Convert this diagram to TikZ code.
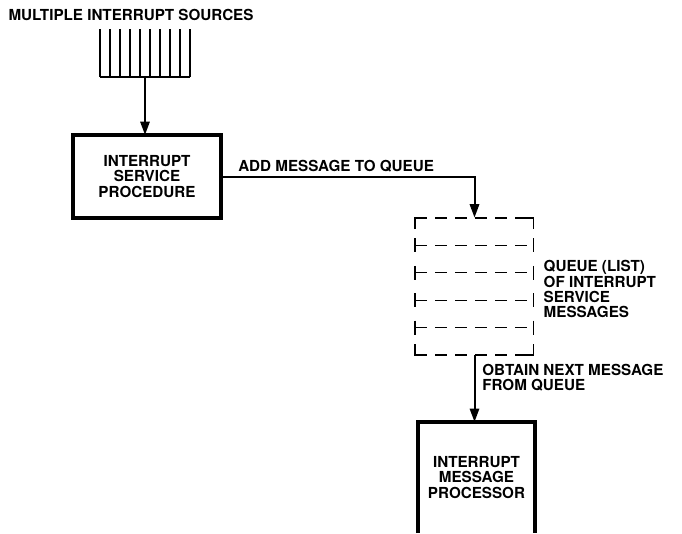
\documentclass[tikz,border=0pt]{standalone}
\usepackage{fontspec}
\setmainfont{TeX Gyre Heros}
\usetikzlibrary{positioning,arrows.meta}
\tikzset{
  lbl/.style={font=\bfseries\fontsize{11.4}{11.4}\selectfont,inner sep=0pt,align=left},
  procbox/.style={rectangle,align=center,inner sep=0pt,font=\bfseries\fontsize{11.4}{11.4}\selectfont},
  heavy/.style={line width=3pt,line cap=rect},
  flow/.style={-{Triangle[length=10pt,width=7pt]},line width=1.5pt},
  slot/.style={line width=1pt,dash pattern=on 9pt off 6pt},
  tick/.style={line width=1.3pt}
}

\begin{document}
\begin{tikzpicture}[x=0.75pt,y=-0.75pt]
  \useasboundingbox (0,0) rectangle (682,533);
  % sources
  \node[lbl,anchor=center] (src) at (131,15) {MULTIPLE INTERRUPT SOURCES};
  \foreach \x in {100,110,...,190}
    \draw[line width=1.3pt] (\x,29) -- (\x,77);
  \draw[line width=1.3pt] (100,77) -- (190,77);
  \coordinate (srcbot) at (145,77);
  % boxes
  \node[procbox,minimum width=111pt,minimum height=62pt] (svc) at (147,176.5) {INTERRUPT\\SERVICE\\PROCEDURE};
  \draw[heavy] (svc.south west) rectangle (svc.north east);
  \node[procbox,minimum width=88pt,minimum height=83pt] (proc) at (476.5,477.5) {INTERRUPT\\MESSAGE\\PROCESSOR};
  \draw[heavy,line cap=butt] (proc.south west) -- (proc.north west) -- (proc.north east) -- (proc.south east);
  % queue
  \node[minimum width=89pt,minimum height=103pt,inner sep=0pt] (queue) at (474.5,286.5) {};
  \foreach \y in {218,245.4,272.8,300.2,327.6,355}
    \draw[slot] (415,\y) -- (533.5,\y);
  \foreach \y in {245.4,272.8,300.2,327.6}{
    \draw[tick] (415,\y) ++(0,-7) -- ++(0,14);
    \draw[tick] (533.5,\y) ++(0,-7) -- ++(0,14);
  }
  \draw[tick] (415,229) -- (415,218) -- (423,218);
  \draw[tick] (533.5,229) -- (533.5,218) -- (526,218);
  \draw[tick] (415,344) -- (415,355) -- (423,355);
  \draw[tick] (533.5,344) -- (533.5,355) -- (526,355);
  \node[lbl,right=7pt of queue,yshift=-2pt] (qlbl) {QUEUE (LIST)\\OF INTERRUPT\\SERVICE\\MESSAGES};
  % connectors
  \draw[flow] (srcbot) -- (srcbot |- svc.north);
  \draw[flow] (svc.east) -| (queue.north);
  \node[lbl,anchor=base west] (add) at (238,171) {ADD MESSAGE TO QUEUE};
  \draw[flow] (queue.south) -- (queue.south |- proc.north);
  \node[lbl,anchor=west] (obt) at (482,378) {OBTAIN NEXT MESSAGE\\FROM QUEUE};
\end{tikzpicture}
\end{document}
